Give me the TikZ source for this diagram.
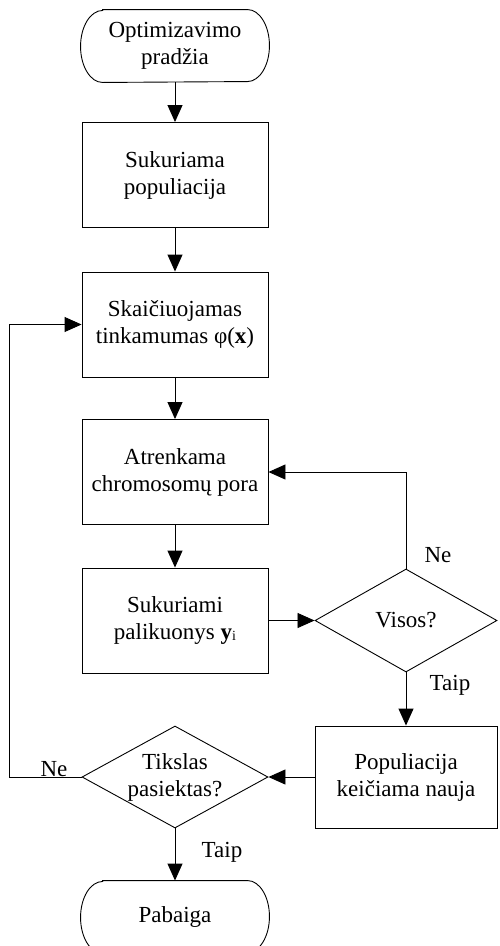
\documentclass[tikz,border=0pt]{standalone}
\usepackage{fontspec}
\setmainfont{Liberation Serif}
\usetikzlibrary{arrows.meta,shapes.geometric}
\begin{document}
\begin{tikzpicture}[x=1pt,y=-1pt,
  every node/.style={font=\fontsize{23}{27}\selectfont, inner sep=0pt, align=center},
  stepbox/.style={draw, rectangle, minimum width=186pt, minimum height=105pt},
  decide/.style={draw, diamond, aspect=1.8, minimum width=184pt, minimum height=103pt},
  termtext/.style={minimum width=188pt, minimum height=72pt},
  lbl/.style={font=\fontsize{23}{27}\selectfont},
  arr/.style={-{Triangle[length=17pt,width=15pt]}},
  line width=0.9pt]
\useasboundingbox (0,0) rectangle (499,946);

\node[termtext] (start) at (175,46) {Optimizavimo\\pradžia};
\draw ([xshift=22pt]start.north west) -- ([xshift=-22pt]start.north east)
  arc[start angle=-90, end angle=90, x radius=22, y radius=36]
  -- ([xshift=22pt]start.south west)
  arc[start angle=90, end angle=270, x radius=22, y radius=36] -- cycle;

\node[stepbox] (b1) at (175,175) {Sukuriama\\populiacija};
\node[stepbox] (b2) at (175,324.5) {Skaičiuojamas\\tinkamumas φ(\textbf{x})};
\node[stepbox] (b3) at (175,472) {Atrenkama\\chromosomų pora};
\node[stepbox] (b4) at (175,620.5) {Sukuriami\\palikuonys \textbf{y}{\fontsize{14}{14}\selectfont\raisebox{-1pt}{i}}};
\node[decide, minimum width=182pt] (d1) at (406,620.5) {Visos?};
\node[stepbox, minimum width=182pt, minimum height=102pt] (b5) at (406,777) {Populiacija\\keičiama nauja};
\node[decide, minimum width=186pt, minimum height=102pt] (d2) at (175,777) {Tikslas\\pasiektas?};

\node[termtext] (end) at (175,917) {Pabaiga};
\draw ([xshift=22pt]end.north west) -- ([xshift=-22pt]end.north east)
  arc[start angle=-90, end angle=90, x radius=22, y radius=36]
  -- ([xshift=22pt]end.south west)
  arc[start angle=90, end angle=270, x radius=22, y radius=36] -- cycle;

\draw[arr] (start) -- (b1);
\draw[arr] (b1) -- (b2);
\draw[arr] (b2) -- (b3);
\draw[arr] (b3) -- (b4);
\draw[arr] (b4) -- (d1);
\draw[arr] (d1.north) |- (b3.east);
\draw[arr] (d1.south) -- (b5.north);
\draw[arr] (b5.west) -- (d2.east);
\draw[arr] (d2.west) -- ++(-72,0) coordinate (lc) |- (b2.west);
\draw[arr] (d2.south) -- (end.north);

\node[lbl] (ne1) at (438,555) {Ne};
\node[lbl] (taip1) at (450,685) {Taip};
\node[lbl] (ne2) at (54,769) {Ne};
\node[lbl] (taip2) at (222,852) {Taip};
\end{tikzpicture}
\end{document}
